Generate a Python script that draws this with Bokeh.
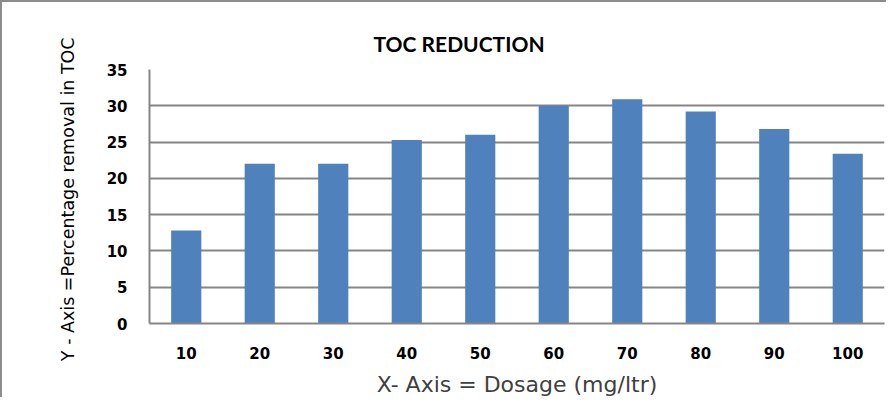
from bokeh.plotting import figure
from bokeh.models import FactorRange, Range1d
from bokeh.embed import file_html
from bokeh.resources import INLINE

dosage = ["10", "20", "30", "40", "50", "60", "70", "80", "90", "100"]
toc_removal = [12.8, 22.0, 22.0, 25.3, 26.0, 30.0, 30.9, 29.2, 26.8, 23.4]
y_ticks = [0, 5, 10, 15, 20, 25, 30, 35]

FONT = "DejaVu Sans"
GRID = "#868686"

p = figure(
    width=886, height=397,
    x_range=FactorRange(*dosage, range_padding=0),
    y_range=Range1d(0, 35),
    output_backend="svg", toolbar_location=None,
    min_border_left=147, min_border_right=4, min_border_top=67, min_border_bottom=76,
    title="TOC REDUCTION",
)
p.styles = {"border-left": "2px solid #8c8c8c", "border-top": "2px solid #8c8c8c"}

p.vbar(x=dosage, top=toc_removal, width=0.41, color="#4F81BD", line_color=None)

p.outline_line_color = None
p.background_fill_color = "white"
p.border_fill_color = "white"

p.title.align = "left"
p.title.offset = 224
p.title.text_font = "Lato"
p.title.text_font_size = "21px"
p.title.text_font_style = "bold"
p.title.text_color = "#000000"
p.title.standoff = 27

p.xgrid.grid_line_color = None
p.ygrid.grid_line_color = GRID
p.ygrid.grid_line_width = 2
p.yaxis.ticker = y_ticks

for ax in (p.xaxis[0], p.yaxis[0]):
    ax.major_tick_line_color = None
    ax.minor_tick_line_color = None
    ax.axis_line_color = GRID
    ax.axis_line_width = 2
    ax.major_label_text_font = FONT
    ax.major_label_text_font_size = "15px"
    ax.major_label_text_font_style = "bold"
    ax.major_label_text_color = "#000000"
    ax.axis_label_text_font = FONT
    ax.axis_label_text_font_style = "normal"

p.yaxis.major_label_standoff = 16
p.yaxis.axis_label = "Y - Axis =Percentage removal  in TOC"
p.yaxis.axis_label_text_font_size = "17.5px"
p.yaxis.axis_label_standoff = 26
p.yaxis.axis_label_text_color = "#000000"

p.xaxis.major_label_standoff = 17
p.xaxis.axis_label = "X- Axis = Dosage (mg/ltr)"
p.xaxis.axis_label_text_font_size = "22px"
p.xaxis.axis_label_standoff = 10
p.xaxis.axis_label_text_color = "#404040"

open("out.html", "w").write(file_html(p, INLINE))
